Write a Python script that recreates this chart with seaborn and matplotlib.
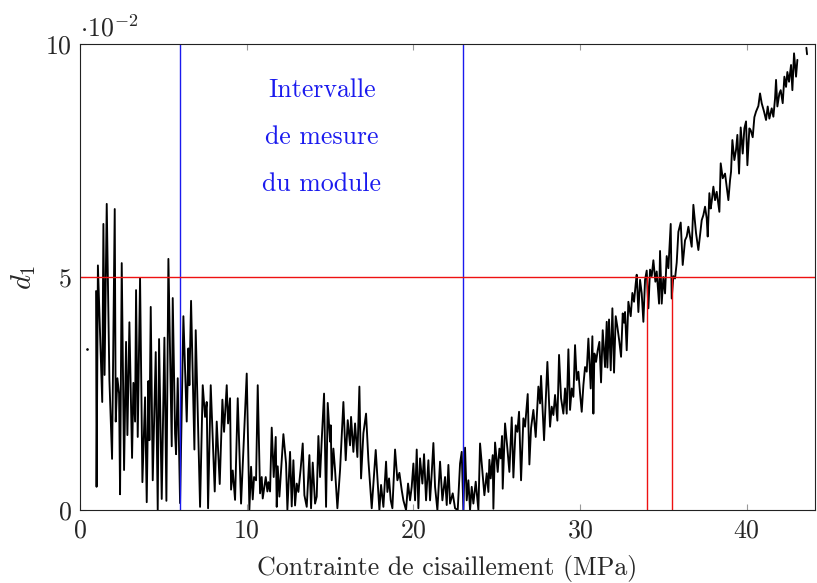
import numpy as np
import pandas as pd
import matplotlib
matplotlib.use("Agg")
import matplotlib.pyplot as plt
import seaborn as sns

# shear stress (MPa) and d1 (in units of 1e-2)
stress = [0.96, 0.99, 1.07, 1.33, 1.40, 1.47, 1.60, 1.76, 1.92, 2.08, 2.14, 2.24, 2.34, 2.40,
          2.50, 2.64, 2.76, 2.84, 2.96, 3.12, 3.20, 3.30, 3.36, 3.46, 3.60, 3.74, 3.90, 4.00,
          4.10, 4.16, 4.24, 4.36, 4.54, 4.66, 4.74, 4.90, 5.06, 5.18, 5.30, 5.50, 5.56, 5.70,
          5.76, 5.86, 6.00, 6.20, 6.40, 6.50, 6.56, 6.66, 6.86, 6.94, 7.20, 7.36, 7.50, 7.60,
          7.68, 7.84, 8.08, 8.20, 8.38, 8.54, 8.64, 8.80, 8.88, 9.00, 9.06, 9.16, 9.30, 9.46,
          9.66, 10.00, 10.16, 10.26, 10.36, 10.44, 10.56, 10.66, 10.80, 10.90, 10.96, 11.14,
          11.24, 11.30, 11.40, 11.50, 11.62, 11.74, 11.80, 11.86, 11.96, 12.20, 12.36, 12.44,
          12.60, 12.70, 12.80, 12.90, 13.00, 13.10, 13.24, 13.36, 13.46, 13.60, 13.76, 13.86,
          13.96, 14.10, 14.20, 14.30, 14.40, 14.50, 14.64, 14.76, 14.86, 15.00, 15.04, 15.10,
          15.20, 15.30, 15.44, 15.60, 15.80, 15.94, 16.06, 16.20, 16.26, 16.40, 16.50, 16.64,
          16.76, 16.86, 17.00, 17.16, 17.30, 17.50, 17.74, 17.96, 18.06, 18.20, 18.36, 18.44,
          18.54, 18.64, 18.74, 18.90, 19.04, 19.16, 19.30, 19.40, 19.56, 19.68, 19.80, 19.90,
          20.00, 20.10, 20.20, 20.30, 20.40, 20.54, 20.64, 20.76, 20.90, 21.00, 21.10, 21.20,
          21.30, 21.44, 21.60, 21.74, 21.90, 22.00, 22.10, 22.20, 22.36, 22.50, 22.66, 22.80,
          22.90, 23.00, 23.10, 23.20, 23.30, 23.40, 23.50, 23.60, 23.74, 23.90, 24.00, 24.26,
          24.40, 24.50, 24.56, 24.64, 24.76, 24.80, 24.90, 25.06, 25.16, 25.24, 25.32, 25.36,
          25.50, 25.64, 25.76, 25.90, 26.00, 26.14, 26.24, 26.34, 26.46, 26.60, 26.70, 26.86,
          26.96, 27.06, 27.20, 27.34, 27.50, 27.60, 27.66, 27.84, 28.04, 28.20, 28.30, 28.40,
          28.50, 28.64, 28.74, 28.86, 29.00, 29.10, 29.20, 29.30, 29.40, 29.50, 29.60, 29.70,
          29.80, 29.90, 30.00, 30.10, 30.20, 30.30, 30.40, 30.50, 30.64, 30.74, 30.80, 30.86,
          30.96, 31.06, 31.16, 31.26, 31.36, 31.50, 31.60, 31.64, 31.74, 31.84, 31.94, 32.04,
          32.14, 32.24, 32.36, 32.46, 32.56, 32.64, 32.70, 32.80, 32.90, 33.04, 33.14, 33.24,
          33.34, 33.40, 33.50, 33.60, 33.70, 33.80, 33.90, 34.00, 34.10, 34.20, 34.30, 34.40,
          34.52, 34.60, 34.74, 34.80, 34.90, 35.00, 35.10, 35.20, 35.30, 35.44, 35.50, 35.60,
          35.70, 35.80, 35.90, 36.04, 36.16, 36.30, 36.40, 36.50, 36.70, 36.80, 36.96, 37.10,
          37.30, 37.40, 37.50, 37.60, 37.66, 37.76, 37.84, 37.90, 38.00, 38.10, 38.20, 38.36,
          38.44, 38.56, 38.70, 38.80, 38.90, 39.00, 39.06, 39.14, 39.26, 39.36, 39.44, 39.54,
          39.64, 39.76, 39.86, 39.96, 40.04, 40.16, 40.24, 40.36, 40.46, 40.56, 40.70, 40.80,
          40.90, 41.04, 41.16, 41.26, 41.36, 41.50, 41.60, 41.70, 41.76, 41.84, 41.96, 42.04,
          42.16, 42.26, 42.36, 42.44, 42.54, 42.66, 42.74, 42.84, 42.96, 43.04]
d1_e2 = [4.70, 0.50, 5.25, 2.32, 6.14, 2.90, 6.57, 2.80, 1.10, 6.46, 1.90, 2.83, 2.50, 0.34,
         5.30, 0.86, 3.61, 1.61, 4.03, 1.12, 2.73, 1.90, 4.72, 1.57, 4.98, 0.60, 2.42, 0.17,
         2.77, 1.50, 4.36, 0.64, 3.39, 0.00, 3.67, 0.24, 3.70, 0.20, 5.39, 1.37, 4.55, 1.64,
         1.20, 2.83, 0.15, 4.16, 1.90, 3.47, 2.68, 4.49, 1.30, 3.86, 0.07, 2.68, 2.00, 2.32,
         0.04, 2.68, 0.40, 1.90, 0.56, 2.37, 1.68, 2.68, 1.86, 2.40, 0.44, 0.85, 0.22, 2.40,
         0.14, 2.93, 0.01, 0.93, 0.23, 0.71, 0.64, 2.68, 0.36, 0.71, 0.25, 0.71,
         0.40, 0.60, 0.40, 1.77, 0.71, 1.57, 0.07, 0.94, 0.29, 1.63, 1.00, 0.01,
         1.25, 0.08, 1.07, 0.10, 0.57, 0.39, 0.90, 1.43, 0.32, 0.07, 1.18, 0.04,
         1.02, 0.14, 0.29, 1.59, 0.71, 1.50, 2.50, 0.07, 2.30, 1.47, 1.82, 0.64,
         1.32, 0.86, 0.04, 0.86, 2.32, 1.07, 1.93, 1.39, 2.00, 1.25, 1.86, 1.14,
         2.65, 0.68, 1.65, 2.07, 1.07, 0.04, 1.29, 0.00, 0.54, 0.07, 1.04, 0.39,
         0.68, 0.21, 0.04, 1.30, 0.64, 0.80, 0.43, 0.21, 0.00, 0.57, 0.21, 0.50,
         1.00, 0.21, 1.30, 0.04, 1.11, 0.57, 1.20, 0.21, 1.07, 0.21, 0.79, 1.44,
         0.50, 0.00, 1.04, 0.21, 0.71, 0.11, 0.97, 0.14, 0.36, 0.04, 0.00, 1.00,
         1.25, 0.00, 1.34, 0.21, 0.64, 0.00, 0.50, 0.14, 0.61, 0.00, 1.43, 0.32,
         0.79, 0.39, 1.08, 0.68, 1.18, 0.03, 1.45, 0.82, 1.32, 1.11, 1.59, 0.46,
         1.86, 1.32, 0.82, 1.99, 0.70, 1.82, 1.68, 2.11, 0.64, 1.97, 1.79, 2.49,
         0.98, 1.76, 2.15, 1.57, 2.65, 2.29, 2.88, 1.50, 3.18, 1.79, 2.22, 2.04,
         2.47, 1.92, 3.33, 2.40, 2.07, 2.61, 2.07, 3.45, 2.15, 2.61, 2.43, 3.54,
         2.79, 2.97, 2.51, 2.11, 2.68, 3.07, 2.97, 3.68, 2.61, 3.73, 2.07, 3.36,
         3.18, 3.43, 3.61, 2.74, 3.86, 3.07, 4.04, 3.06, 4.09, 3.00, 4.33, 2.95,
         4.16, 3.93, 3.61, 3.29, 4.22, 4.02, 4.25, 3.43, 4.47, 4.16, 4.66, 4.47,
         4.86, 5.05, 4.25, 4.94, 4.65, 4.04, 4.94, 5.14, 4.33, 5.16, 5.02, 5.36,
         4.90, 5.12, 4.43, 5.56, 4.43, 5.00, 4.65, 5.45, 5.19, 6.14, 4.54, 5.02,
         4.97, 5.31, 5.97, 6.17, 5.26, 5.79, 5.87, 6.08, 5.65, 6.55, 5.94, 5.58,
         6.22, 6.33, 6.51, 6.26, 5.87, 6.80, 6.47, 6.62, 6.94, 6.65, 6.83, 6.40,
         7.44, 7.12, 7.22, 6.94, 6.65, 7.08, 7.26, 7.94, 7.51, 7.73, 8.05, 7.22,
         8.21, 7.65, 8.19, 8.34, 7.40, 8.19, 8.15, 8.00, 8.43, 8.55, 8.67, 8.94,
         8.73, 8.55, 8.37, 8.66, 8.40, 8.62, 8.44, 8.83, 9.23, 8.66, 8.94, 9.01,
         8.73, 9.30, 9.08, 9.40, 9.19, 9.55, 9.01, 9.80, 9.30, 9.66]

# small detached pieces
tail_stress = [43.58, 43.62]
tail_d1 = [9.92, 9.78]
dot_stress = [0.40]
dot_d1 = [3.45]

# measurement interval and threshold markers
interval = [6, 23]
threshold = 5
cross_stress = [34.0, 35.5]

sns.set_style("ticks")
plt.rcParams["font.family"] = "serif"
plt.rcParams["font.serif"] = ["cmr10", "DejaVu Serif"]
plt.rcParams["mathtext.fontset"] = "cm"
plt.rcParams["axes.formatter.use_mathtext"] = True

fig = plt.figure(figsize=(8.17, 5.83), dpi=100)
ax = fig.add_axes([0.098, 0.125, 0.8996, 0.7995])

df = pd.DataFrame({"stress": stress, "d1": d1_e2})
sns.lineplot(data=df, x="stress", y="d1", estimator=None, sort=False,
             color="black", linewidth=1.35, ax=ax)
ax.plot(tail_stress, tail_d1, color="black", linewidth=1.35)
ax.plot(dot_stress, dot_d1, "k.", markersize=1.8)

for xv in interval:
    ax.axvline(xv, color="#1a1aee", linewidth=1.0)
ax.axhline(threshold, color="#ee1111", linewidth=1.0)
for xv in cross_stress:
    ax.plot([xv, xv], [0, threshold], color="#ee1111", linewidth=1.0)

fs = 18.6
for txt, yv in zip(["Intervalle", "de mesure", "du module"], [9.0, 8.0, 7.0]):
    ax.text(14.5, yv, txt, color="#1a1aee", fontsize=fs, ha="center", va="center")

ax.set_xlim(0, 44.1)
ax.set_ylim(0, 10)
ax.set_xticks([0, 10, 20, 30, 40])
ax.set_yticks([0, 5, 10])
ax.tick_params(direction="in", top=True, right=True, length=4, width=0.8,
               color="#999999", labelsize=fs, pad=6)
for s in ax.spines.values():
    s.set_linewidth(0.8)
    s.set_color("#222222")
ax.set_xlabel("Contrainte de cisaillement (MPa)", fontsize=fs, labelpad=9.5)
ax.set_ylabel("$d_1$", fontsize=fs + 2, labelpad=5)
ax.text(0.0, 1.005, r"$\cdot 10^{-2}$", transform=ax.transAxes, fontsize=fs,
        ha="left", va="bottom")

fig.savefig("out.png", dpi=100)
